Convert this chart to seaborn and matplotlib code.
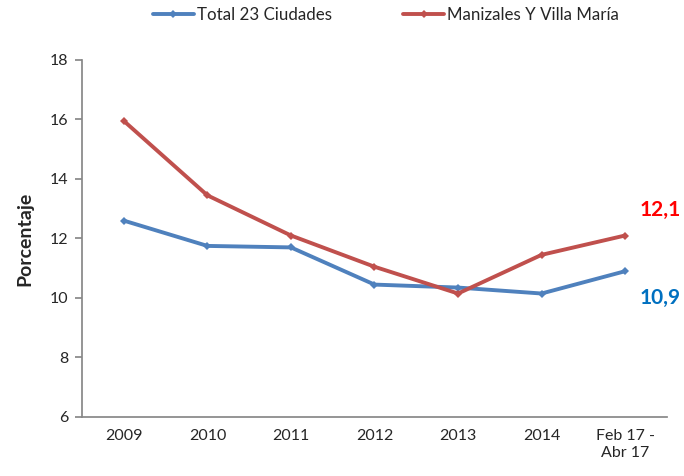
import matplotlib
matplotlib.use("Agg")
import matplotlib.pyplot as plt
import seaborn as sns
import pandas as pd

categories = ["2009", "2010", "2011", "2012", "2013", "2014", "Feb 17 -\nAbr 17"]
total_23 = [12.6, 11.75, 11.7, 10.45, 10.35, 10.15, 10.9]
manizales = [15.95, 13.45, 12.1, 11.05, 10.15, 11.45, 12.1]
series_names = ["Total 23 Ciudades", "Manizales Y Villa María"]

sns.set_theme(style="white")
plt.rcParams["font.family"] = ["Lato", "DejaVu Sans"]

df = pd.DataFrame({
    "x": list(range(len(categories))) * 2,
    "valor": total_23 + manizales,
    "serie": [series_names[0]] * len(categories) + [series_names[1]] * len(categories),
})

fig = plt.figure(figsize=(6.84, 4.76), dpi=100)
ax = fig.add_axes([0.12, 0.124, 0.855, 0.75])

sns.lineplot(data=df, x="x", y="valor", hue="serie", palette=["#4F81BD", "#C0504D"],
             marker="D", markersize=4, markeredgewidth=0, linewidth=2.8, ax=ax)

ax.set_xlim(-0.5, len(categories) - 0.5)
ax.set_ylim(6, 18)
ax.set_yticks(range(6, 19, 2))
ax.set_xticks(range(len(categories)))
ax.set_xticklabels(categories, fontsize=11.5)
ax.set_xticks([i - 0.5 for i in range(len(categories) + 1)], minor=True)
ax.tick_params(axis="x", which="major", length=0, pad=9)
ax.tick_params(axis="x", which="minor", length=5, color="#888888", direction="out")
ax.tick_params(axis="y", length=5, color="#888888", direction="out", labelsize=11.5, left=True, pad=5)
ax.set_xlabel("")
ax.set_ylabel("Porcentaje", fontsize=14, fontweight="bold", labelpad=12)
sns.despine(ax=ax)
for s in ("left", "bottom"):
    ax.spines[s].set_color("#888888")

ax.text(6.17, 12.95, "12,1", color="#FF0000", fontsize=15, fontweight="bold", va="center", ha="left",
        clip_on=False)
ax.text(6.17, 10.0, "10,9", color="#0070C0", fontsize=15, fontweight="bold", va="center", ha="left",
        clip_on=False)

ax.legend(loc="lower center", bbox_to_anchor=(0.52, 1.06), ncol=2, frameon=False, fontsize=12.2,
          title=None, handlelength=2.4, columnspacing=4.2, handletextpad=0.2)

fig.savefig("out.png", dpi=100)
